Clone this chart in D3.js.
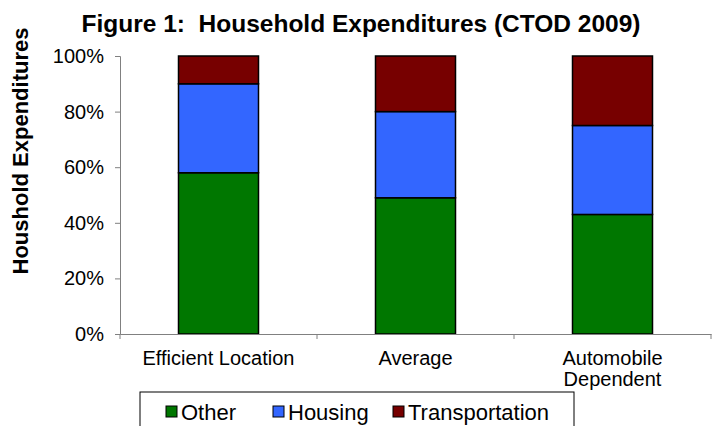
<!DOCTYPE html>
<html>
<head>
<meta charset="utf-8">
<script src="https://cdn.jsdelivr.net/npm/d3@7"></script>
<style>
  body { margin: 0; background: #fff; }
  svg text { font-family: Arial, "Liberation Sans", sans-serif; fill: #000; }
</style>
</head>
<body>
<script>
// chart data
var categories = ['Efficient Location', 'Average', 'Automobile Dependent'];
var series = ['Other', 'Housing', 'Transportation'];
var other = [58, 49, 43];
var housing = [32, 31, 32];
var transportation = [10, 20, 25];
var yTicks = [0, 20, 40, 60, 80, 100];
var colors = ['#007700', '#3366ff', '#770000'];

var width = 715, height = 426;
var plotLeft = 120, plotRight = 711, plotTop = 56, plotBottom = 334;

var svg = d3.select('body').append('svg').attr('width', width).attr('height', height);

var rows = categories.map(function (c, i) {
  return { cat: c, Other: other[i], Housing: housing[i], Transportation: transportation[i] };
});
var stacked = d3.stack().keys(series)(rows);

var x = d3.scaleBand().domain(categories).range([plotLeft, plotRight]).paddingInner(0).paddingOuter(0);
var y = d3.scaleLinear().domain([0, 100]).range([plotBottom, plotTop]);
var barW = 80;

// title
svg.append('text')
  .attr('x', 361).attr('y', 32)
  .attr('text-anchor', 'middle')
  .style('font-size', '24.5px').style('font-weight', 'bold')
  .style('white-space', 'pre')
  .text('Figure 1:  Household Expenditures (CTOD 2009)');

// y label
svg.append('text')
  .attr('transform', 'translate(28,151) rotate(-90)')
  .attr('text-anchor', 'middle')
  .style('font-size', '22px').style('font-weight', 'bold')
  .text('Houshold Expenditures');

// bars
svg.selectAll('g.layer')
  .data(stacked)
  .enter().append('g')
  .attr('class', 'layer')
  .attr('fill', function (d, i) { return colors[i]; })
  .selectAll('rect')
  .data(function (d) { return d; })
  .enter().append('rect')
  .attr('x', function (d) { return x(d.data.cat) + (x.bandwidth() - barW) / 2; })
  .attr('y', function (d) { return y(d[1]); })
  .attr('width', barW)
  .attr('height', function (d) { return y(d[0]) - y(d[1]); })
  .attr('stroke', '#000')
  .attr('stroke-width', 1.5);

// y axis
var yAxis = svg.append('g')
  .attr('transform', 'translate(' + plotLeft + ',0)')
  .call(d3.axisLeft(y).tickValues(yTicks).tickSize(5).tickPadding(11)
    .tickFormat(function (d) { return d + '%'; }));
yAxis.select('path').attr('stroke', '#808080');
yAxis.selectAll('line').attr('stroke', '#808080');
yAxis.selectAll('text').style('font-size', '20px').attr('fill', '#000');

// x axis
var xAxis = svg.append('g')
  .attr('transform', 'translate(0,' + plotBottom + ')')
  .call(d3.axisBottom(x).tickSize(0).tickFormat(''));
xAxis.select('path').attr('stroke', '#808080');
xAxis.selectAll('.tick').remove();
svg.selectAll('line.xtick')
  .data([plotLeft].concat(categories.map(function (c) { return x(c) + x.bandwidth(); })))
  .enter().append('line')
  .attr('class', 'xtick')
  .attr('x1', function (d) { return d; }).attr('x2', function (d) { return d; })
  .attr('y1', plotBottom).attr('y2', plotBottom + 5)
  .attr('stroke', '#808080');

// category labels
svg.selectAll('text.cat')
  .data(categories)
  .enter().append('text')
  .attr('class', 'cat')
  .attr('text-anchor', 'middle')
  .attr('x', function (d) { return x(d) + x.bandwidth() / 2; })
  .attr('y', 365)
  .style('font-size', '20px')
  .each(function (d) {
    var t = d3.select(this);
    var lines = d === 'Automobile Dependent' ? ['Automobile', 'Dependent'] : [d];
    lines.forEach(function (l, i) {
      t.append('tspan').attr('x', t.attr('x')).attr('dy', i ? 21 : 0).text(l);
    });
  });

// legend
var legend = svg.append('g');
legend.append('rect')
  .attr('x', 140).attr('y', 392).attr('width', 434).attr('height', 40)
  .attr('fill', '#fff').attr('stroke', '#000').attr('stroke-width', 1);
var legendX = [166, 273, 393];
var items = legend.selectAll('g.item')
  .data(series)
  .enter().append('g')
  .attr('transform', function (d, i) { return 'translate(' + legendX[i] + ',0)'; });
items.append('rect')
  .attr('x', 0).attr('y', 406).attr('width', 11).attr('height', 11)
  .attr('fill', function (d, i) { return colors[i]; })
  .attr('stroke', '#000').attr('stroke-width', 1);
items.append('text')
  .attr('x', 15).attr('y', 420)
  .style('font-size', '22px')
  .text(function (d) { return d; });
</script>
</body>
</html>
